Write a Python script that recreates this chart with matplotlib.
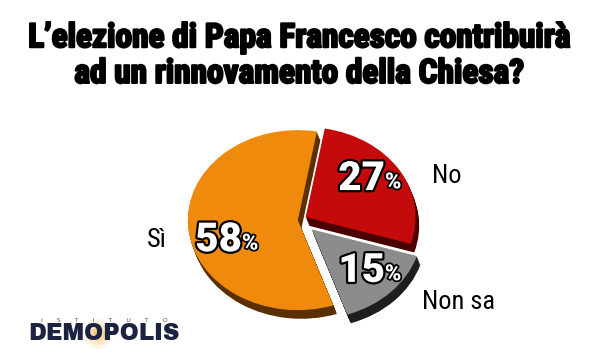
import matplotlib
matplotlib.use("Agg")
import matplotlib.pyplot as plt
import matplotlib.patheffects as pe

# === DATA ===
categories = ["No", "Non sa", "Sì"]
values = [27, 15, 58]
pct_labels = ["27", "15", "58"]

colors = ["#c50a0c", "#8c8c8c", "#f08a0c"]
dark_colors = ["#4a0000", "#1e1e1e", "#5a3000"]
explode = [0.06, 0.15, 0.02]

TITLE = "L’elezione di Papa Francesco contribuirà\nad un rinnovamento della Chiesa?"
FONT = ["Roboto Condensed", "DejaVu Sans"]
NUM_FONT = ["Roboto", "DejaVu Sans"]

fig = plt.figure(figsize=(6.0, 3.61), dpi=100)
fig.patch.set_facecolor("white")

# overlay axes in pixel coordinates for title and logo
over = fig.add_axes([0, 0, 1, 1])
over.set_xlim(0, 600)
over.set_ylim(361, 0)
over.axis("off")

over.text(300, 56, TITLE, ha="center", va="center", fontsize=24,
          fontweight="bold", family=FONT, color="black", linespacing=1.15,
          path_effects=[pe.withStroke(linewidth=1.6, foreground="black")])

# === Pie ===
ax = fig.add_axes([0.225, 0.0166, 0.55, 0.748])
ax.axis("off")

# extruded depth
steps = 8
for k in range(steps, 0, -1):
    ax.pie(values, colors=dark_colors, startangle=80, counterclock=False,
           explode=explode, center=(0.004 * k, -0.012 * k),
           wedgeprops=dict(linewidth=0))
ax.pie(values, colors=colors, startangle=80, counterclock=False,
       explode=explode, wedgeprops=dict(linewidth=0))
ax.set_aspect("auto")
ax.set_xlim(-1.5, 1.5)
ax.set_ylim(-1.5, 1.5)

# percentage labels
pct_pos = [(0.56, 0.46), (0.56, -0.56), (-0.74, -0.22)]
for txt, (x, y) in zip(pct_labels, pct_pos):
    t = ax.text(x, y, txt, ha="center", va="center", fontsize=29,
                fontweight="black", family=NUM_FONT, color="white",
                path_effects=[pe.withStroke(linewidth=3.2, foreground="black")])
    ax.annotate("%", xy=(1.0, 0.12), xycoords=t, ha="left", va="bottom",
                fontsize=16, fontweight="black", family=NUM_FONT,
                color="white",
                path_effects=[pe.withStroke(linewidth=2.5, foreground="black")])

# category labels
cat_pos = [(1.20, 0.49), (1.11, -0.91), (-1.21, -0.22)]
cat_ha = ["left", "left", "right"]
for txt, (x, y), ha in zip(categories, cat_pos, cat_ha):
    ax.text(x, y, txt, ha=ha, va="center", fontsize=19, family=FONT,
            color="black")

# === Logo ===
for r, a in [(15, 0.10), (11, 0.15), (7, 0.25), (4, 0.35)]:
    over.add_patch(plt.Circle((98, 334), r, color="#f5a020", alpha=a, lw=0))
over.text(104, 321, "I       S       T       I       T       U       T       O",
          ha="center", va="center", fontsize=4.5, family="DejaVu Sans",
          color="#555555")
over.text(104, 334, "DEMOPOLIS", ha="center", va="center", fontsize=16.5,
          family=["Archivo Black", "DejaVu Sans"], color="#1c2340")

fig.savefig("out.png", dpi=100)
